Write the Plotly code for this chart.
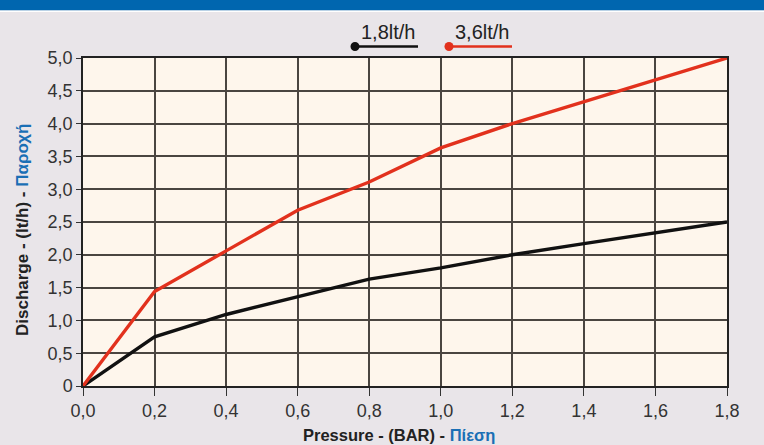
import plotly.graph_objects as go

pressure = [0.0, 0.2, 0.4, 0.6, 0.8, 1.0, 1.2, 1.4, 1.6, 1.8]
flow_18 = [0.0, 0.75, 1.09, 1.36, 1.63, 1.80, 2.00, 2.17, 2.33, 2.50]
flow_36 = [0.0, 1.44, 2.06, 2.68, 3.11, 3.63, 4.00, 4.33, 4.67, 5.00]
series_names = ["1,8lt/h", "3,6lt/h"]
series_colors = ["#111111", "#E2311D"]
x_ticks = [0.0, 0.2, 0.4, 0.6, 0.8, 1.0, 1.2, 1.4, 1.6, 1.8]
x_ticklabels = ["0,0", "0,2", "0,4", "0,6", "0,8", "1,0", "1,2", "1,4", "1,6", "1,8"]
y_ticks = [0, 0.5, 1.0, 1.5, 2.0, 2.5, 3.0, 3.5, 4.0, 4.5, 5.0]
y_ticklabels = ["0", "0,5", "1,0", "1,5", "2,0", "2,5", "3,0", "3,5", "4,0", "4,5", "5,0"]

W, H = 764, 445
L, R, T, B = 83, 37, 58, 59
pw, ph = W - L - R, H - T - B
FONT = "Liberation Sans, Arial"

fig = go.Figure()
for name, ys, col in zip(series_names, [flow_18, flow_36], series_colors):
    fig.add_trace(go.Scatter(x=pressure, y=ys, mode="lines", name=name,
                             line=dict(color=col, width=3.4), showlegend=False))

def px_x(p):
    return (p - L) / pw

def px_y(p):
    return (H - B - p) / ph

shapes = [
    dict(type="rect", xref="paper", yref="paper", x0=px_x(-2), x1=px_x(W + 2), y0=px_y(10.5), y1=px_y(-2),
         fillcolor="#0066AF", line=dict(width=0), layer="below"),
    dict(type="rect", xref="paper", yref="paper", x0=px_x(-2), x1=px_x(W + 2), y0=px_y(12), y1=px_y(10.5),
         fillcolor="#FFFFFF", line=dict(width=0), layer="below"),
]
annotations = []
for i, (name, col) in enumerate(zip(series_names, series_colors)):
    x0 = 355 + i * 94
    shapes.append(dict(type="line", xref="paper", yref="paper", x0=px_x(x0), x1=px_x(x0 + 63),
                       y0=px_y(46.5), y1=px_y(46.5), line=dict(color=col, width=2.5)))
    shapes.append(dict(type="circle", xref="paper", yref="paper", x0=px_x(x0 - 4.5), x1=px_x(x0 + 4.5),
                       y0=px_y(51), y1=px_y(42), fillcolor=col, line=dict(color=col, width=0)))
    annotations.append(dict(text=name, xref="paper", yref="paper", x=px_x(x0 + 33), y=px_y(32),
                            showarrow=False, xanchor="center", yanchor="middle",
                            font=dict(size=20, color="#222222", family=FONT)))

annotations.append(dict(
    text="<b>Pressure - (BAR) - <span style='color:#1A6FB5'>Πίεση</span></b>",
    xref="paper", yref="paper", x=px_x(399), y=px_y(434.5), showarrow=False,
    xanchor="center", yanchor="middle",
    font=dict(size=16.5, color="#222222", family=FONT)))
annotations.append(dict(
    text="<b>Discharge - (lt/h) - <span style='color:#1A6FB5'>Παροχή</span></b>",
    xref="paper", yref="paper", x=px_x(22), y=px_y(230), showarrow=False, textangle=-90,
    xanchor="center", yanchor="middle",
    font=dict(size=17, color="#222222", family=FONT)))

axis_common = dict(showgrid=True, gridcolor="#4A4540", gridwidth=1.6,
                   showline=True, linecolor="#222222", linewidth=1.5, mirror=True,
                   ticks="outside", tickcolor="#333333", zeroline=False,
                   tickfont=dict(size=18, color="#333333", family=FONT))

fig.update_layout(
    width=W, height=H,
    margin=dict(l=L, r=R, t=T, b=B),
    paper_bgcolor="#E9E5E9",
    plot_bgcolor="#FEF6EC",
    shapes=shapes,
    annotations=annotations,
    font=dict(family=FONT, size=16, color="#333333"),
    xaxis=dict(range=[0, 1.8], tickvals=x_ticks, ticktext=x_ticklabels, ticklen=8, **axis_common),
    yaxis=dict(range=[0, 5.0], tickvals=y_ticks, ticktext=y_ticklabels, ticklen=5, **axis_common),
)

fig.write_html("out.html", config={"displayModeBar": False},
               post_script="document.body.style.margin='0';document.body.style.padding='0';")
